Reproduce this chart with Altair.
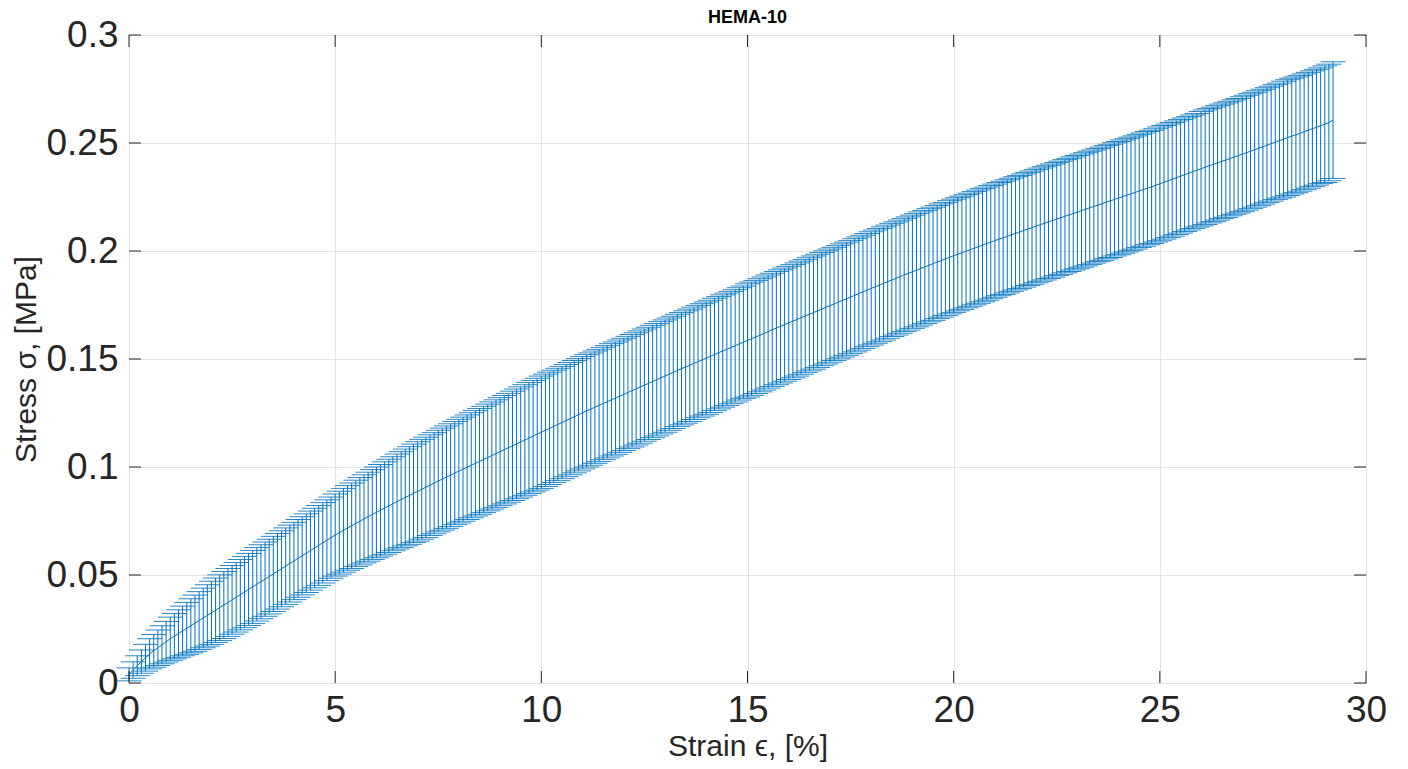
import altair as alt
import numpy as np
import pandas as pd

# Strain sample grid (%), 0.0 .. 29.2 in 0.1 steps
strain = np.round(np.arange(293) * 0.1, 1)

# Mean stress (MPa), one row per 1 % strain
mean_stress = [
    0.0040, 0.0060, 0.0080, 0.0099, 0.0117, 0.0135, 0.0149, 0.0163, 0.0177, 0.0191,
    0.0205, 0.0217, 0.0229, 0.0241, 0.0253, 0.0265, 0.0277, 0.0289, 0.0301, 0.0313,
    0.0325, 0.0337, 0.0349, 0.0361, 0.0373, 0.0385, 0.0397, 0.0409, 0.0421, 0.0433,
    0.0445, 0.0457, 0.0469, 0.0481, 0.0493, 0.0505, 0.0517, 0.0529, 0.0541, 0.0553,
    0.0565, 0.0577, 0.0589, 0.0601, 0.0613, 0.0625, 0.0637, 0.0649, 0.0661, 0.0673,
    0.0685, 0.0696, 0.0707, 0.0718, 0.0728, 0.0739, 0.0749, 0.0760, 0.0770, 0.0780,
    0.0790, 0.0800, 0.0810, 0.0820, 0.0830, 0.0840, 0.0849, 0.0859, 0.0868, 0.0878,
    0.0887, 0.0897, 0.0906, 0.0916, 0.0925, 0.0935, 0.0944, 0.0953, 0.0962, 0.0972,
    0.0981, 0.0990, 0.0999, 0.1008, 0.1017, 0.1026, 0.1035, 0.1044, 0.1053, 0.1062,
    0.1071, 0.1080, 0.1089, 0.1098, 0.1107, 0.1116, 0.1125, 0.1134, 0.1143, 0.1152,
    0.1161, 0.1170, 0.1179, 0.1188, 0.1197, 0.1206, 0.1215, 0.1224, 0.1233, 0.1242,
    0.1251, 0.1260, 0.1268, 0.1277, 0.1285, 0.1294, 0.1302, 0.1311, 0.1319, 0.1328,
    0.1336, 0.1345, 0.1353, 0.1362, 0.1370, 0.1379, 0.1387, 0.1396, 0.1404, 0.1413,
    0.1421, 0.1430, 0.1438, 0.1447, 0.1455, 0.1463, 0.1471, 0.1480, 0.1488, 0.1496,
    0.1504, 0.1512, 0.1521, 0.1529, 0.1537, 0.1545, 0.1553, 0.1561, 0.1570, 0.1578,
    0.1586, 0.1594, 0.1602, 0.1610, 0.1618, 0.1627, 0.1635, 0.1643, 0.1651, 0.1659,
    0.1667, 0.1675, 0.1683, 0.1691, 0.1699, 0.1707, 0.1715, 0.1723, 0.1731, 0.1739,
    0.1747, 0.1755, 0.1763, 0.1771, 0.1779, 0.1787, 0.1795, 0.1803, 0.1811, 0.1819,
    0.1827, 0.1835, 0.1842, 0.1850, 0.1858, 0.1866, 0.1873, 0.1881, 0.1889, 0.1896,
    0.1904, 0.1911, 0.1919, 0.1926, 0.1934, 0.1941, 0.1949, 0.1956, 0.1963, 0.1971,
    0.1978, 0.1985, 0.1992, 0.1999, 0.2006, 0.2013, 0.2020, 0.2027, 0.2034, 0.2041,
    0.2048, 0.2055, 0.2061, 0.2068, 0.2075, 0.2082, 0.2088, 0.2095, 0.2102, 0.2108,
    0.2115, 0.2122, 0.2128, 0.2135, 0.2141, 0.2148, 0.2154, 0.2161, 0.2167, 0.2174,
    0.2180, 0.2187, 0.2193, 0.2200, 0.2206, 0.2213, 0.2219, 0.2226, 0.2232, 0.2239,
    0.2245, 0.2252, 0.2258, 0.2265, 0.2271, 0.2278, 0.2284, 0.2291, 0.2297, 0.2304,
    0.2311, 0.2318, 0.2325, 0.2332, 0.2339, 0.2346, 0.2353, 0.2360, 0.2367, 0.2374,
    0.2381, 0.2388, 0.2395, 0.2401, 0.2408, 0.2415, 0.2421, 0.2428, 0.2435, 0.2441,
    0.2448, 0.2455, 0.2462, 0.2469, 0.2476, 0.2483, 0.2490, 0.2497, 0.2504, 0.2511,
    0.2518, 0.2525, 0.2532, 0.2538, 0.2545, 0.2552, 0.2559, 0.2566, 0.2573, 0.2580,
    0.2587, 0.2595, 0.2606,
]

# Standard deviation (MPa) at each sample
std_stress = [
    0.0030, 0.0038, 0.0046, 0.0054, 0.0062, 0.0070, 0.0076, 0.0082, 0.0088, 0.0094,
    0.0100, 0.0105, 0.0110, 0.0115, 0.0120, 0.0125, 0.0130, 0.0134, 0.0138, 0.0142,
    0.0146, 0.0149, 0.0152, 0.0155, 0.0157, 0.0159, 0.0161, 0.0163, 0.0165, 0.0167,
    0.0169, 0.0170, 0.0171, 0.0172, 0.0173, 0.0174, 0.0175, 0.0176, 0.0177, 0.0178,
    0.0179, 0.0180, 0.0181, 0.0182, 0.0183, 0.0184, 0.0185, 0.0186, 0.0187, 0.0188,
    0.0190, 0.0192, 0.0194, 0.0196, 0.0198, 0.0200, 0.0202, 0.0204, 0.0206, 0.0208,
    0.0210, 0.0212, 0.0214, 0.0216, 0.0218, 0.0220, 0.0222, 0.0224, 0.0226, 0.0228,
    0.0230, 0.0231, 0.0232, 0.0233, 0.0234, 0.0235, 0.0236, 0.0237, 0.0238, 0.0239,
    0.0240, 0.0241, 0.0242, 0.0243, 0.0244, 0.0245, 0.0246, 0.0247, 0.0248, 0.0249,
    0.0250, 0.0251, 0.0252, 0.0253, 0.0254, 0.0255, 0.0256, 0.0257, 0.0258, 0.0259,
    0.0260, 0.0260, 0.0260, 0.0260, 0.0260, 0.0260, 0.0260, 0.0260, 0.0260, 0.0260,
    0.0260, 0.0260, 0.0260, 0.0260, 0.0260, 0.0260, 0.0260, 0.0260, 0.0260, 0.0260,
    0.0260, 0.0260, 0.0260, 0.0260, 0.0260, 0.0260, 0.0260, 0.0260, 0.0260, 0.0260,
    0.0260, 0.0260, 0.0260, 0.0260, 0.0260, 0.0260, 0.0260, 0.0260, 0.0260, 0.0260,
    0.0260, 0.0260, 0.0260, 0.0260, 0.0260, 0.0260, 0.0260, 0.0260, 0.0260, 0.0260,
    0.0262, 0.0262, 0.0262, 0.0262, 0.0262, 0.0262, 0.0262, 0.0262, 0.0262, 0.0262,
    0.0262, 0.0262, 0.0262, 0.0262, 0.0262, 0.0262, 0.0262, 0.0262, 0.0262, 0.0262,
    0.0262, 0.0262, 0.0262, 0.0262, 0.0262, 0.0262, 0.0262, 0.0262, 0.0262, 0.0262,
    0.0262, 0.0262, 0.0262, 0.0262, 0.0262, 0.0262, 0.0262, 0.0262, 0.0262, 0.0262,
    0.0262, 0.0262, 0.0262, 0.0262, 0.0262, 0.0262, 0.0262, 0.0262, 0.0262, 0.0262,
    0.0262, 0.0262, 0.0262, 0.0262, 0.0262, 0.0262, 0.0262, 0.0262, 0.0262, 0.0262,
    0.0262, 0.0262, 0.0262, 0.0262, 0.0262, 0.0262, 0.0262, 0.0262, 0.0262, 0.0262,
    0.0262, 0.0262, 0.0262, 0.0262, 0.0262, 0.0262, 0.0262, 0.0262, 0.0262, 0.0262,
    0.0262, 0.0262, 0.0262, 0.0262, 0.0262, 0.0262, 0.0262, 0.0262, 0.0262, 0.0262,
    0.0262, 0.0262, 0.0262, 0.0262, 0.0262, 0.0262, 0.0262, 0.0262, 0.0262, 0.0262,
    0.0263, 0.0263, 0.0263, 0.0263, 0.0263, 0.0263, 0.0263, 0.0263, 0.0263, 0.0263,
    0.0265, 0.0265, 0.0265, 0.0265, 0.0265, 0.0265, 0.0265, 0.0265, 0.0265, 0.0265,
    0.0266, 0.0266, 0.0266, 0.0266, 0.0266, 0.0266, 0.0266, 0.0266, 0.0266, 0.0266,
    0.0268, 0.0268, 0.0268, 0.0268, 0.0268, 0.0268, 0.0268, 0.0268, 0.0268, 0.0268,
    0.0270, 0.0270, 0.0270,
]

x_ticks = [0, 5, 10, 15, 20, 25, 30]
y_ticks = [0, 0.05, 0.1, 0.15, 0.2, 0.25, 0.3]
chart_title = "HEMA-10"

BLUE = "#0072BD"
AXC = "#262626"
W, H = 1237, 648
FONT = "Liberation Sans"

df = pd.DataFrame({"strain": strain, "mean": mean_stress, "std": std_stress})
df["lo"] = df["mean"] - df["std"]
df["hi"] = df["mean"] + df["std"]

xscale = alt.Scale(domain=[0, 30], nice=False, zero=False)
yscale = alt.Scale(domain=[0, 0.3], nice=False, zero=False)

xaxis = alt.Axis(values=x_ticks, format="d", title="Strain ϵ, [%]", labelFlush=False,
                 titleX=W / 2, titleY=72, titleBaseline="alphabetic", titleAlign="center",
                 labelPadding=9, labelBaseline="top")
yaxis = alt.Axis(values=y_ticks, format="~g", title="Stress σ, [MPa]", labelFlush=False,
                 titleX=-94, titleY=H / 2, titleAngle=270, titleBaseline="alphabetic",
                 titleAlign="center", labelPadding=11, labelBaseline="middle")

base = alt.Chart(df)

bars = base.mark_rule(color=BLUE, strokeWidth=1).encode(
    x=alt.X("strain:Q", scale=xscale, axis=xaxis),
    y=alt.Y("lo:Q", scale=yscale, axis=yaxis),
    y2="hi:Q",
)
cap_hi = base.mark_tick(orient="horizontal", size=25, thickness=1, color=BLUE, opacity=0.85).encode(
    x=alt.X("strain:Q", scale=xscale, axis=xaxis),
    y=alt.Y("hi:Q", scale=yscale, axis=yaxis),
)
cap_lo = base.mark_tick(orient="horizontal", size=25, thickness=1, color=BLUE, opacity=0.85).encode(
    x=alt.X("strain:Q", scale=xscale, axis=xaxis),
    y=alt.Y("lo:Q", scale=yscale, axis=yaxis),
)
line = base.mark_line(color=BLUE, strokeWidth=1).encode(
    x=alt.X("strain:Q", scale=xscale, axis=xaxis),
    y=alt.Y("mean:Q", scale=yscale, axis=yaxis),
)

xt = pd.DataFrame({"strain": x_ticks})
yt = pd.DataFrame({"mean": y_ticks})
TL = 12
tick_b = alt.Chart(xt).mark_rule(color=AXC, strokeWidth=1).encode(
    x=alt.X("strain:Q", scale=xscale, axis=xaxis), y=alt.value(H), y2=alt.value(H - TL))
tick_t = alt.Chart(xt).mark_rule(color=AXC, strokeWidth=1).encode(
    x=alt.X("strain:Q", scale=xscale, axis=xaxis), y=alt.value(0), y2=alt.value(TL))
tick_l = alt.Chart(yt).mark_rule(color=AXC, strokeWidth=1).encode(
    y=alt.Y("mean:Q", scale=yscale, axis=yaxis), x=alt.value(0), x2=alt.value(TL))
tick_r = alt.Chart(yt).mark_rule(color=AXC, strokeWidth=1).encode(
    y=alt.Y("mean:Q", scale=yscale, axis=yaxis), x=alt.value(W), x2=alt.value(W - TL))

title_df = pd.DataFrame({"t": [chart_title]})
title_mark = alt.Chart(title_df).mark_text(
    font=FONT, fontSize=18, fontWeight="bold", color="#000000",
    align="center", baseline="alphabetic",
).encode(x=alt.value(W / 2), y=alt.value(-12), text="t:N")

chart = alt.layer(bars, cap_hi, cap_lo, line, tick_b, tick_t, tick_l, tick_r, title_mark).properties(
    width=W, height=H,
    autosize=alt.AutoSizeParams(type="none"),
    padding={"left": 129, "top": 35, "right": 42, "bottom": 86},
).configure_view(
    stroke=AXC, strokeWidth=1
).configure_axis(
    grid=True, gridColor="#e3e3e3", gridWidth=1, domain=False, ticks=False, tickSize=0,
    labelFont=FONT, labelFontSize=37, labelColor=AXC,
    titleFont=FONT, titleFontSize=30, titleColor=AXC, titleFontWeight="normal",
)

chart.save("out.html", embed_options={"renderer": "svg", "actions": False})
